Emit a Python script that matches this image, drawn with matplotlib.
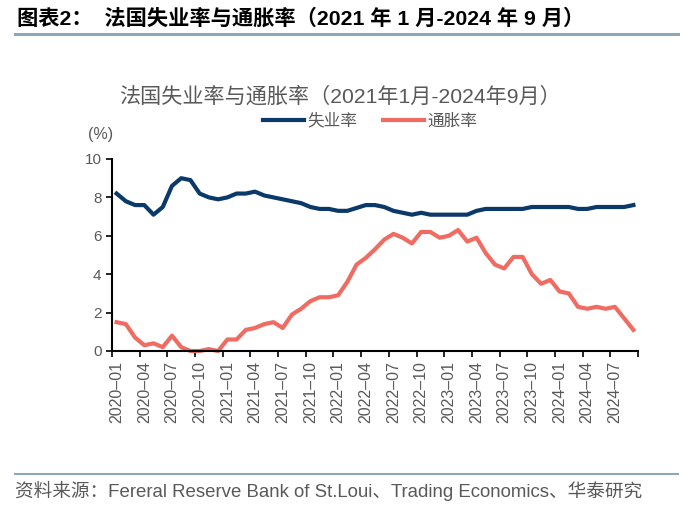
import numpy as np
import matplotlib
matplotlib.use("Agg")
from matplotlib import pyplot as plt
from matplotlib.lines import Line2D

plt.rcParams['font.family'] = ['Liberation Sans', 'Noto Sans CJK SC', 'DejaVu Sans']

# monthly data 2020-01 .. 2024-09
months = ['%d–%02d' % (y, m) for y in range(2020, 2025) for m in range(1, 13)][:57]
unemployment = [8.2, 7.8, 7.6, 7.6, 7.1, 7.5, 8.6, 9.0, 8.9, 8.2, 8.0, 7.9,
                8.0, 8.2, 8.2, 8.3, 8.1, 8.0, 7.9, 7.8, 7.7, 7.5, 7.4, 7.4,
                7.3, 7.3, 7.45, 7.6, 7.6, 7.5, 7.3, 7.2, 7.1, 7.2, 7.1, 7.1,
                7.1, 7.1, 7.1, 7.3, 7.4, 7.4, 7.4, 7.4, 7.4, 7.5, 7.5, 7.5,
                7.5, 7.5, 7.4, 7.4, 7.5, 7.5, 7.5, 7.5, 7.6]
inflation = [1.5, 1.4, 0.7, 0.3, 0.4, 0.2, 0.8, 0.2, 0.0, 0.0, 0.1, 0.0,
             0.6, 0.6, 1.1, 1.2, 1.4, 1.5, 1.2, 1.9, 2.2, 2.6, 2.8, 2.8,
             2.9, 3.6, 4.5, 4.85, 5.3, 5.8, 6.1, 5.9, 5.6, 6.2, 6.2, 5.9,
             6.0, 6.3, 5.7, 5.9, 5.1, 4.5, 4.3, 4.9, 4.9, 4.0, 3.5, 3.7,
             3.1, 3.0, 2.3, 2.2, 2.3, 2.2, 2.3, 1.7, 1.1]
yticks = [0, 2, 4, 6, 8, 10]

blue = '#0B3A6A'
red = '#F06B62'
grey = '#595959'

fig = plt.figure(figsize=(7.0, 5.08), dpi=100)

# header and footer
fig.text(17/700, 1 - 18/508, '图表2：  法国失业率与通胀率（2021 年 1 月-2024 年 9 月）',
         fontsize=15.3, fontweight='bold', va='center', ha='left', color='black')
fig.add_artist(Line2D([15/700, 678/700], [1 - 34/508] * 2, color='#8FA5BA', lw=2.2))
fig.add_artist(Line2D([15/700, 678/700], [1 - 474/508] * 2, color='#8FA5BA', lw=1.5))
fig.text(15/700, 1 - 491/508,
         '资料来源：Fereral Reserve Bank of St.Loui、Trading Economics、华泰研究',
         fontsize=13.4, va='center', ha='left', color=grey)

ax = fig.add_axes([112/700, 1 - 351/508, 526/700, 192/508])
x = np.arange(len(months))
ax.plot(x, unemployment, color=blue, lw=3, solid_joinstyle='round', label='失业率')
ax.plot(x, inflation, color=red, lw=3, solid_joinstyle='round', label='通胀率')

ax.set_xlim(-0.5, len(months) - 0.5)
ax.set_ylim(0, 10)
ax.set_yticks(yticks)
ax.tick_params(axis='y', labelsize=11, labelcolor=grey, length=4, width=1.2, direction='out')

ax.set_xticks(np.arange(0, len(months) + 1, 3) - 0.5)
ax.set_xticklabels([])
ax.set_xticks(np.arange(0, len(months), 3), minor=True)
ax.set_xticklabels(months[::3], minor=True, rotation=90, fontsize=11.5, color=grey)
ax.tick_params(axis='x', which='major', length=4, width=1.2, direction='out')
ax.tick_params(axis='x', which='minor', length=0, pad=7)

for s in ['top', 'right']:
    ax.spines[s].set_visible(False)
for s in ['left', 'bottom']:
    ax.spines[s].set_linewidth(1.5)
for l in ax.lines:
    l.set_clip_on(False)

fig.text(101/700, 1 - 135/508, '(%)', fontsize=11.5, color=grey, ha='center', va='center')
fig.text(340/700, 1 - 96/508, '法国失业率与通胀率（2021年1月-2024年9月）',
         fontsize=15.2, color=grey, ha='center', va='center')
ax.legend(loc='center', bbox_to_anchor=(370/700, 1 - 121/508), bbox_transform=fig.transFigure,
          ncol=2, frameon=False, fontsize=12, labelcolor=grey, handlelength=2.5,
          columnspacing=1.5, handletextpad=0.2)

fig.savefig('out.png', dpi=100)
